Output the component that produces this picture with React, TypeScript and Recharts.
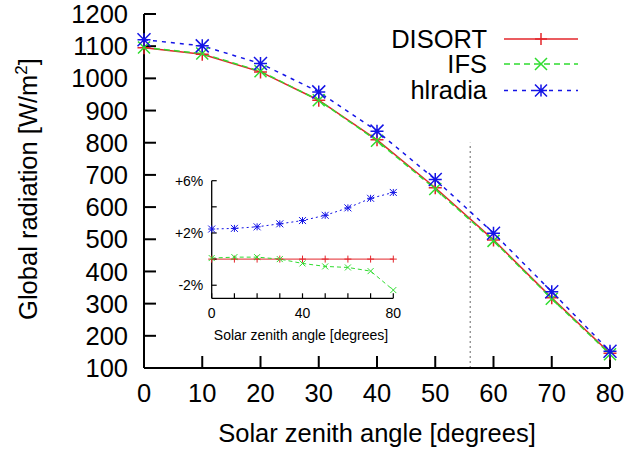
import React from 'react';
import { LineChart, Line, XAxis, YAxis, ReferenceLine, Legend } from 'recharts';

const angles = [0, 10, 20, 30, 40, 50, 60, 70, 80];
const disortValues = [1095, 1075, 1020, 932, 809, 660, 498, 318, 146];
const ifsValues = [1096, 1077, 1022, 932, 806, 656, 495, 315, 143];
const hlradiaValues = [1120, 1101, 1046, 958, 836, 686, 519, 337, 152];

const mainXTicks = [0, 10, 20, 30, 40, 50, 60, 70, 80];
const mainYTicks = [100, 200, 300, 400, 500, 600, 700, 800, 900, 1000, 1100, 1200];

// relative difference to DISORT, in percent (inset)
const disortDiff = [0, 0, 0, 0, 0, 0, 0, 0, 0];
const ifsDiff = [0.08, 0.15, 0.15, 0, -0.33, -0.56, -0.64, -0.92, -2.37];
const hlradiaDiff = [2.3, 2.35, 2.47, 2.7, 2.95, 3.35, 3.92, 4.65, 5.1];

const insetYTicks = [-2, 0, 2, 4, 6];
const insetYLabels: Record<number, string> = { '-2': '-2%', 2: '+2%', 6: '+6%' } as any;
const insetXLabels = [0, 40, 80];

const sunLimit = 56;

const mainData = angles.map((a, i) => ({
  angle: a,
  disort: disortValues[i],
  ifs: ifsValues[i],
  hlradia: hlradiaValues[i],
}));

const insetData = angles.map((a, i) => ({
  angle: a,
  disort: disortDiff[i],
  ifs: ifsDiff[i],
  hlradia: hlradiaDiff[i],
}));

const FONT = '"Liberation Sans", Arial, Helvetica, sans-serif';
const RED = '#e3262b';
const GREEN = '#2fdc2f';
const BLUE = '#1414e6';

type Shape = 'plus' | 'cross' | 'star';

function markerPath(cx: number, cy: number, shape: Shape, s: number) {
  const plus = `M${cx - s},${cy}H${cx + s}M${cx},${cy - s}V${cy + s}`;
  const cross = `M${cx - s},${cy - s}L${cx + s},${cy + s}M${cx - s},${cy + s}L${cx + s},${cy - s}`;
  if (shape === 'plus') return plus;
  if (shape === 'cross') return cross;
  return plus + cross;
}

const makeDot = (shape: Shape, color: string, size: number, width: number) => (props: any) => {
  const { cx, cy, index } = props;
  if (cx == null || cy == null) return <g key={`n-${index}`} />;
  return (
    <path
      key={`${shape}-${index}`}
      d={markerPath(cx, cy, shape, size)}
      stroke={color}
      strokeWidth={width}
      fill="none"
    />
  );
};

const legendRows = [
  { name: 'DISORT', color: RED, dash: undefined, shape: 'plus' as Shape },
  { name: 'IFS', color: GREEN, dash: '6 4', shape: 'cross' as Shape },
  { name: 'hlradia', color: BLUE, dash: '4 5', shape: 'star' as Shape },
];

function MainLegend() {
  const ys = [17, 42, 68.5];
  return (
    <svg width={220} height={90} style={{ display: 'block' }}>
      {legendRows.map((r, i) => (
        <g key={r.name}>
          <text x={107} y={ys[i] + 8.5} textAnchor="end" fontSize={25.5} fontFamily={FONT} fill="#000">
            {r.name}
          </text>
          <line x1={124} x2={198} y1={ys[i]} y2={ys[i]} stroke={r.color} strokeWidth={1.5} strokeDasharray={r.dash} />
          <path d={markerPath(161, ys[i], r.shape, 6)} stroke={r.color} strokeWidth={1.5} fill="none" />
        </g>
      ))}
    </svg>
  );
}

const YTitle = () => (
  <text transform="translate(37,189) rotate(-90)" textAnchor="middle" fontSize={25.5} fontFamily={FONT} fill="#000">
    <tspan>Global radiation [W/m</tspan>
    <tspan dy={-10} fontSize={17}>2</tspan>
    <tspan dy={10}>]</tspan>
  </text>
);

const XTitle = () => (
  <text x={377} y={442} textAnchor="middle" fontSize={25.5} fontFamily={FONT} fill="#000">
    Solar zenith angle [degrees]
  </text>
);

const InsetXTitle = () => (
  <text x={151} y={180} textAnchor="middle" fontSize={14} fontFamily={FONT} fill="#000">
    Solar zenith angle [degrees]
  </text>
);

export default function App() {
  const mainTick = { fill: '#000', fontSize: 25.5, fontFamily: FONT };
  const insetTick = { fill: '#000', fontSize: 14, fontFamily: FONT };
  const axisLine = { stroke: '#000', strokeWidth: 2 };
  const tickLine = { stroke: '#000', strokeWidth: 2 };
  const insetAxisLine = { stroke: '#000', strokeWidth: 1.3 };
  const insetTickLine = { stroke: '#000', strokeWidth: 1.2 };

  return (
    <div style={{ position: 'absolute', left: 0, top: 0, width: 628, height: 451, background: '#fff', fontFamily: FONT }}>
      <LineChart width={628} height={451} data={mainData} margin={{ top: 14, right: 18, bottom: 43, left: 84 }}>
        <XAxis
          dataKey="angle"
          type="number"
          domain={[0, 80]}
          ticks={mainXTicks}
          interval={0}
          height={40}
          axisLine={axisLine}
          tickLine={tickLine}
          tickSize={-12}
          tickMargin={27.6}
          tick={mainTick}
          label={<XTitle />}
        />
        <XAxis
          xAxisId="top"
          orientation="top"
          dataKey="angle"
          type="number"
          domain={[0, 80]}
          ticks={mainXTicks}
          interval={0}
          height={0}
          axisLine={axisLine}
          tickLine={tickLine}
          tickSize={-12}
          tickFormatter={() => ''}
        />
        <YAxis
          type="number"
          domain={[100, 1200]}
          ticks={mainYTicks}
          interval={0}
          width={60}
          axisLine={axisLine}
          tickLine={tickLine}
          tickSize={-12}
          tickMargin={28}
          tick={mainTick}
          label={<YTitle />}
        />
        <YAxis
          yAxisId="right"
          orientation="right"
          type="number"
          domain={[100, 1200]}
          ticks={mainYTicks}
          interval={0}
          width={0}
          axisLine={axisLine}
          tickLine={tickLine}
          tickSize={-12}
          tickFormatter={() => ''}
        />
        <ReferenceLine
          segment={[{ x: sunLimit, y: 100 }, { x: sunLimit, y: 800 }]}
          stroke="#666"
          strokeWidth={1}
          strokeDasharray="2 3"
        />
        <Line
          dataKey="disort"
          stroke={RED}
          strokeWidth={1.5}
          dot={makeDot('plus', RED, 6.5, 1.5)}
          isAnimationActive={false}
        />
        <Line
          dataKey="ifs"
          stroke={GREEN}
          strokeWidth={1.5}
          strokeDasharray="6 4"
          dot={makeDot('cross', GREEN, 6, 1.5)}
          isAnimationActive={false}
        />
        <Line
          dataKey="hlradia"
          stroke={BLUE}
          strokeWidth={1.5}
          strokeDasharray="4 5"
          dot={makeDot('star', BLUE, 6.5, 1.5)}
          isAnimationActive={false}
        />
        <Legend
          layout="vertical"
          align="center"
          verticalAlign="middle"
          wrapperStyle={{ left: 380, top: 22, width: 220, height: 90 }}
          content={<MainLegend />}
        />
      </LineChart>

      <div style={{ position: 'absolute', left: 150, top: 160 }}>
        <LineChart width={260} height={200} data={insetData} margin={{ top: 20.7, right: 16.7, bottom: 21.7, left: 21.7 }}>
          <XAxis
            dataKey="angle"
            type="number"
            domain={[0, 80]}
            ticks={angles}
            interval={0}
            height={40}
            axisLine={insetAxisLine}
            tickLine={insetTickLine}
            tickSize={-5}
            tickMargin={14.7}
            tick={insetTick}
            tickFormatter={(v: number) => (insetXLabels.includes(v) ? String(v) : '')}
            label={<InsetXTitle />}
          />
          <XAxis
            xAxisId="top"
            orientation="top"
            dataKey="angle"
            type="number"
            domain={[0, 80]}
            ticks={angles}
            interval={0}
            height={0}
            axisLine={insetAxisLine}
            tickLine={insetTickLine}
            tickSize={-5}
            tickFormatter={() => ''}
          />
          <YAxis
            type="number"
            domain={[-3, 6]}
            ticks={insetYTicks}
            interval={0}
            width={40}
            axisLine={insetAxisLine}
            tickLine={insetTickLine}
            tickSize={-5}
            tickMargin={13.4}
            tick={insetTick}
            tickFormatter={(v: number) => insetYLabels[v] ?? ''}
          />
          <YAxis
            yAxisId="right"
            orientation="right"
            type="number"
            domain={[-3, 6]}
            ticks={insetYTicks}
            interval={0}
            width={0}
            axisLine={insetAxisLine}
            tickLine={insetTickLine}
            tickSize={-5}
            tickFormatter={() => ''}
          />
          <Line
            dataKey="disort"
            stroke={RED}
            strokeWidth={1}
            dot={makeDot('plus', RED, 3.5, 1)}
            isAnimationActive={false}
          />
          <Line
            dataKey="ifs"
            stroke={GREEN}
            strokeWidth={1}
            strokeDasharray="4 3"
            dot={makeDot('cross', GREEN, 3, 1)}
            isAnimationActive={false}
          />
          <Line
            dataKey="hlradia"
            stroke={BLUE}
            strokeWidth={1}
            strokeDasharray="2 3"
            dot={makeDot('star', BLUE, 3.5, 1)}
            isAnimationActive={false}
          />
        </LineChart>
      </div>
    </div>
  );
}
